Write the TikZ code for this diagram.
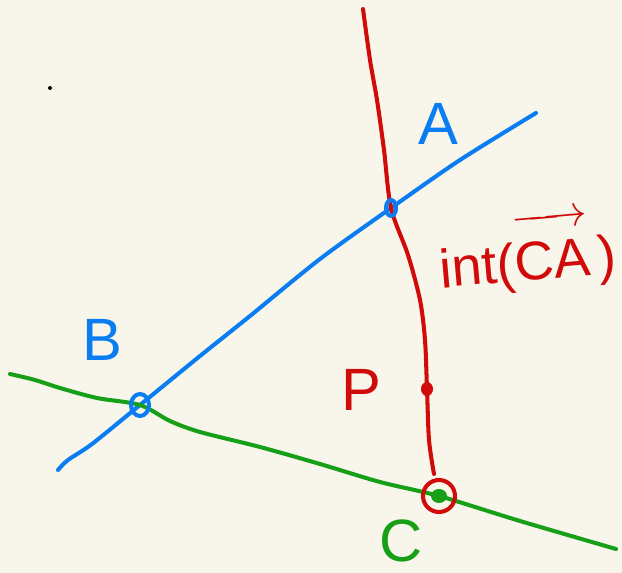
\documentclass[tikz,border=0pt]{standalone}
\usepackage{fontspec}
\setmainfont{Liberation Sans}
\usepackage{amsmath}
\usetikzlibrary{positioning}
\definecolor{paper}{HTML}{F8F6EB}
\definecolor{pen blue}{HTML}{0A7DF2}
\definecolor{pen red}{HTML}{D10A0A}
\definecolor{pen green}{HTML}{17A017}

\begin{document}
\begin{tikzpicture}[x=0.02cm,y=-0.02cm,
    stroke/.style={line width=2.3pt,line cap=round,line join=round},
    letter/.style={font=\fontsize{34}{34}\selectfont,inner sep=0pt}]
      \fill[paper] (0,0) rectangle (622,573);
      \useasboundingbox (0,0) rectangle (622,573);
      % points
      \coordinate (A) at (391,208); \coordinate (B) at (140,405);
      \coordinate (C) at (439,496); \coordinate (P) at (427,389);
      % lines
      \draw[stroke,pen blue] plot[smooth] coordinates {(58,470) (68,460) (92,444) (B) (200,356) (250,316) (320,259) (A) (460,160) (536,113)};
      \draw[stroke,pen green] plot[smooth] coordinates {(10,374) (35,380) (60,388) (97,398) (B) (170,421) (200,432) (260,447) (320,464) (380,482) (C) (520,521) (616,549)};
      \draw[stroke,pen red] plot[smooth] coordinates {(363,9) (370,60) (377,100) (384,150) (A) (408,255) (420,300) (425,340) (P) (429,440) (434,474)};
      % marks
      \draw[stroke,pen blue] (A) ellipse (5 and 8);
      \draw[stroke,pen blue] (B) ellipse (9 and 11);
      \fill[pen red] (P) ellipse (6 and 7);
      \fill[pen green] (C) ellipse (8 and 7);
      \draw[stroke,pen red] (C) circle (16);
      \fill (50,88) circle (2);
      % labels
      \node[letter,pen blue] (lA) at (438,124) {A};
      \node[letter,pen blue] (lB) at (102,340) {B};
      \node[letter,pen red] (lP) at (361,390) {P};
      \node[letter,pen green] (lC) at (401,541) {C};
      \node[pen red,font=\fontsize{31}{31}\selectfont,inner sep=0pt,rotate=5] (lint) at (527,253) {int($\overrightarrow{\text{CA}\rule{0pt}{0.92em}}\,$)};
    \end{tikzpicture}
\end{document}
